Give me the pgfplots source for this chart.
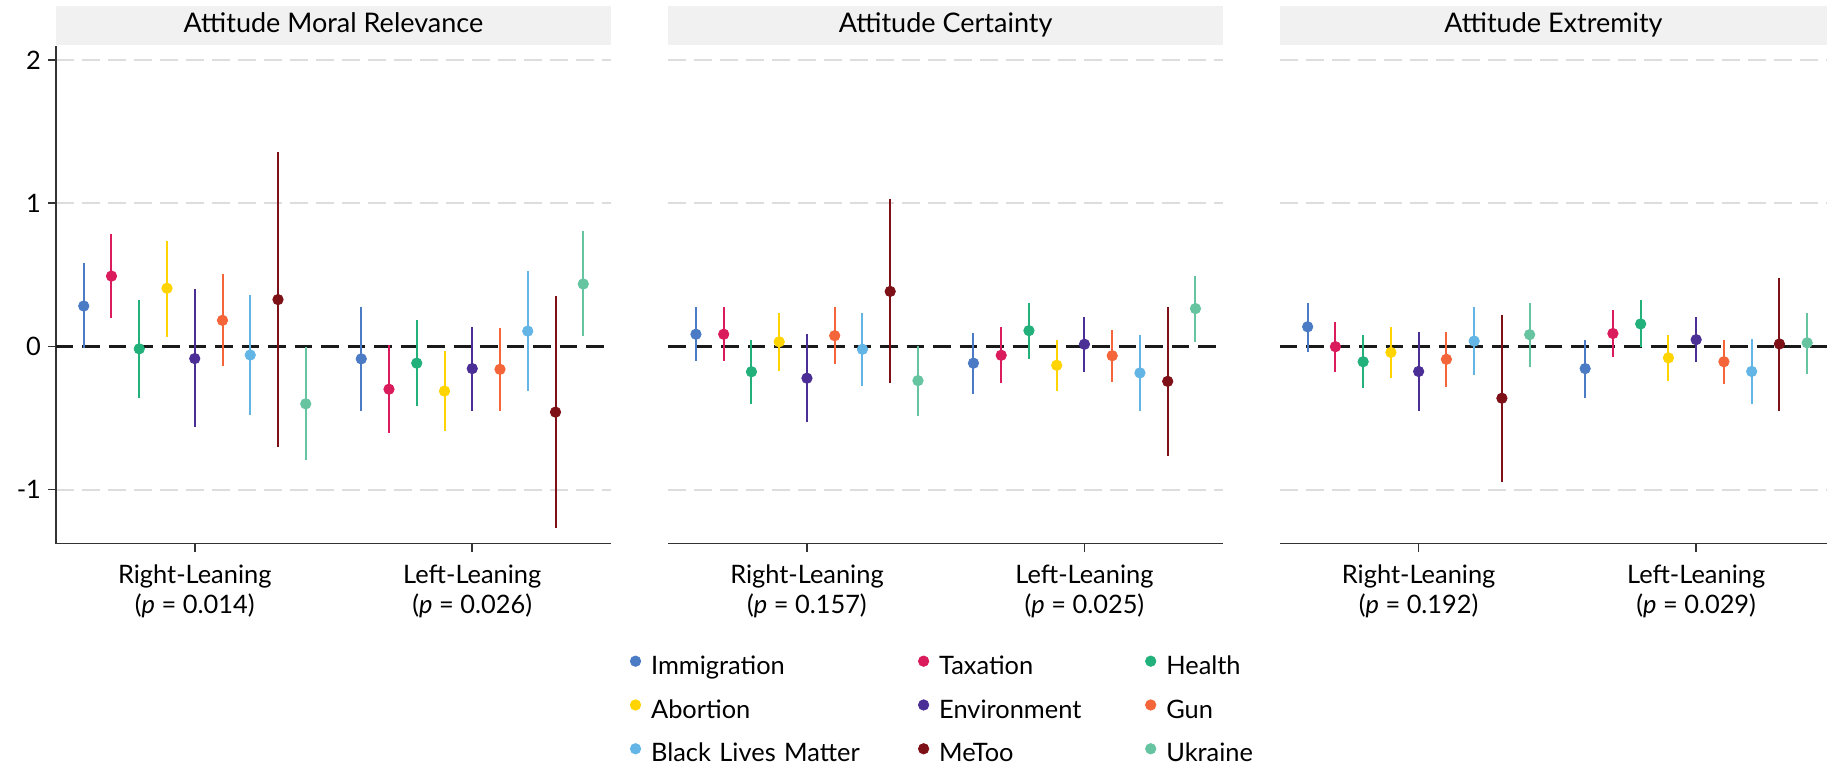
\documentclass[border=0pt]{standalone}
\usepackage{fontspec}
\setmainfont{Lato}
\usepackage{pgfplots}
\usepackage{pgfplotstable}
\pgfplotsset{compat=1.18}

\definecolor{cImm}{HTML}{4A7BC4}
\definecolor{cTax}{HTML}{DA1B5C}
\definecolor{cHea}{HTML}{22B07B}
\definecolor{cAbo}{HTML}{FFD400}
\definecolor{cEnv}{HTML}{4C2F96}
\definecolor{cGun}{HTML}{F4653A}
\definecolor{cBlm}{HTML}{63B5E6}
\definecolor{cMet}{HTML}{7D1117}
\definecolor{cUkr}{HTML}{66C4A0}
\definecolor{stripgray}{HTML}{F0F1F0}
\definecolor{gridgray}{HTML}{DDDDDD}
\definecolor{axisgray}{HTML}{333333}
\definecolor{zeroblack}{HTML}{1A1A1A}

% columns: x, estimate, lower CI, upper CI ; rows ordered by topic (Right, Left)
\pgfplotstableread{
x y lo hi
0.6 0.282 -0.012 0.581
1.6 -0.087 -0.451 0.272
0.7 0.491 0.200 0.783
1.7 -0.299 -0.608 0.007
0.8 -0.017 -0.362 0.324
1.8 -0.117 -0.419 0.182
0.9 0.406 0.067 0.736
1.9 -0.312 -0.589 -0.035
1.0 -0.085 -0.566 0.399
2.0 -0.155 -0.449 0.135
1.1 0.182 -0.140 0.504
2.1 -0.160 -0.449 0.127
1.2 -0.060 -0.481 0.359
2.2 0.107 -0.309 0.526
1.3 0.327 -0.703 1.359
2.3 -0.459 -1.267 0.354
1.4 -0.401 -0.793 -0.005
2.4 0.436 0.075 0.803
}\tabMoral

\pgfplotstableread{
x y lo hi
0.6 0.085 -0.105 0.272
1.6 -0.117 -0.334 0.097
0.7 0.085 -0.105 0.272
1.7 -0.062 -0.259 0.135
0.8 -0.177 -0.404 0.047
1.8 0.110 -0.085 0.304
0.9 0.032 -0.175 0.234
1.9 -0.132 -0.309 0.045
1.0 -0.222 -0.531 0.085
2.0 0.015 -0.177 0.204
1.1 0.075 -0.125 0.272
2.1 -0.065 -0.249 0.117
1.2 -0.020 -0.274 0.234
2.2 -0.185 -0.449 0.080
1.3 0.384 -0.259 1.027
2.3 -0.244 -0.763 0.272
1.4 -0.239 -0.484 0.005
2.4 0.264 0.032 0.494
}\tabCert

\pgfplotstableread{
x y lo hi
0.6 0.137 -0.037 0.304
1.6 -0.155 -0.359 0.047
0.7 -0.002 -0.177 0.167
1.7 0.090 -0.077 0.254
0.8 -0.107 -0.292 0.080
1.8 0.157 -0.005 0.322
0.9 -0.042 -0.219 0.135
1.9 -0.080 -0.242 0.080
1.0 -0.175 -0.449 0.100
2.0 0.047 -0.112 0.204
1.1 -0.090 -0.282 0.100
2.1 -0.107 -0.264 0.047
1.2 0.037 -0.200 0.272
2.2 -0.175 -0.399 0.050
1.3 -0.362 -0.948 0.217
2.3 0.017 -0.449 0.481
1.4 0.082 -0.142 0.304
2.4 0.025 -0.190 0.234
}\tabExtr

\newcommand{\ci}[4]{\addplot[color=#1] table[x=x,y=y,
  y error plus expr=\thisrow{hi}-\thisrow{y},
  y error minus expr=\thisrow{y}-\thisrow{lo},
  skip coords between index={0}{#2},
  skip coords between index={#3}{18}] {#4};}

\newcommand{\allci}[1]{%
  \ci{cImm}{0}{2}{#1}
  \ci{cTax}{2}{4}{#1}
  \ci{cHea}{4}{6}{#1}
  \ci{cAbo}{6}{8}{#1}
  \ci{cEnv}{8}{10}{#1}
  \ci{cGun}{10}{12}{#1}
  \ci{cBlm}{12}{14}{#1}
  \ci{cMet}{14}{16}{#1}
  \ci{cUkr}{16}{18}{#1}}

\pgfplotsset{
  panel/.style={
    scale only axis, height=248.95pt,
    xmin=0.5, ymin=-1.377, ymax=2.1,
    clip=false,
    axis x line*=bottom, axis y line*=left,
    axis line style={draw=axisgray, line width=0.8pt},
    tick align=outside, major tick length=4pt,
    tick style={draw=axisgray, line width=0.8pt},
    xtick={1,2},
    x tick label style={align=center, font=\fontsize{12.7}{15}\selectfont, yshift=-3pt},
    ytick={-1,1,2},
    ymajorgrids=true,
    major grid style={draw=gridgray, line width=1pt, dash pattern=on 9pt off 4pt},
    extra y ticks={0},
    extra y tick style={ymajorgrids=true, major grid style={draw=zeroblack, line width=1.3pt, dash pattern=on 8.75pt off 4.5pt}},
    y tick label style={font=\fontsize{12.7}{15}\selectfont},
    every axis title/.style={at={(0.5,1)}, anchor=south, fill=stripgray, inner sep=0pt,
      minimum height=19.5pt, text height=9.8pt, text depth=2.7pt,
      font=\fontsize{13.5}{15}\selectfont},
    every axis plot/.append style={only marks, mark=*, mark size=2.6pt},
    error bars/y dir=both,
    error bars/y explicit,
    error bars/error mark=none,
    error bars/error bar style={line width=1pt},
  },
  noy/.style={
    y axis line style={draw=none},
    ytick style={draw=none},
    yticklabels={}, extra y tick labels={},
  }
}

\begin{document}
\begin{tikzpicture}
\useasboundingbox (0,0) rectangle (913.5pt,384.5pt);

\begin{axis}[panel, at={(28pt,112.7pt)}, width=277.5pt, xmax=2.5,
  title={Attitude Moral Relevance},
  every axis title/.append style={minimum width=277.5pt},
  yticklabels={-1,1,2}, extra y tick labels={0},
  xticklabels={{Right-Leaning\\(\textit{p} = 0.014)},{Left-Leaning\\(\textit{p} = 0.026)}}]
\allci{\tabMoral}
\end{axis}

\begin{axis}[panel, noy, at={(334.1pt,112.7pt)}, width=277.5pt, xmax=2.5,
  title={Attitude Certainty},
  every axis title/.append style={minimum width=277.5pt},
  xticklabels={{Right-Leaning\\(\textit{p} = 0.157)},{Left-Leaning\\(\textit{p} = 0.025)}},
  legend columns=3,
  legend cell align=left,
  legend image code/.code={\fill[#1] (0pt,3.6pt) circle (2.6pt);},
  legend style={draw=none, fill=none, inner sep=0pt,
    at={(-0.0697,-0.2217)}, anchor=north west,
    font=\fontsize{12.7}{14}\selectfont,
    row sep=7.9pt, column sep=4pt,
    nodes={inner sep=1pt, text height=9pt, text depth=3pt},
    /tikz/column 2/.style={nodes={text width=128.45pt}},
    /tikz/column 4/.style={nodes={text width=97.95pt}}}]
\allci{\tabCert}
\legend{Immigration,Taxation,Health,Abortion,Environment,Gun,Black Lives Matter,MeToo,Ukraine}
\end{axis}

\begin{axis}[panel, noy, at={(639.95pt,112.7pt)}, width=273.55pt, xmax=2.4715,
  title={Attitude Extremity},
  every axis title/.append style={minimum width=273.55pt},
  xticklabels={{Right-Leaning\\(\textit{p} = 0.192)},{Left-Leaning\\(\textit{p} = 0.029)}}]
\allci{\tabExtr}
\end{axis}
\end{tikzpicture}
\end{document}
